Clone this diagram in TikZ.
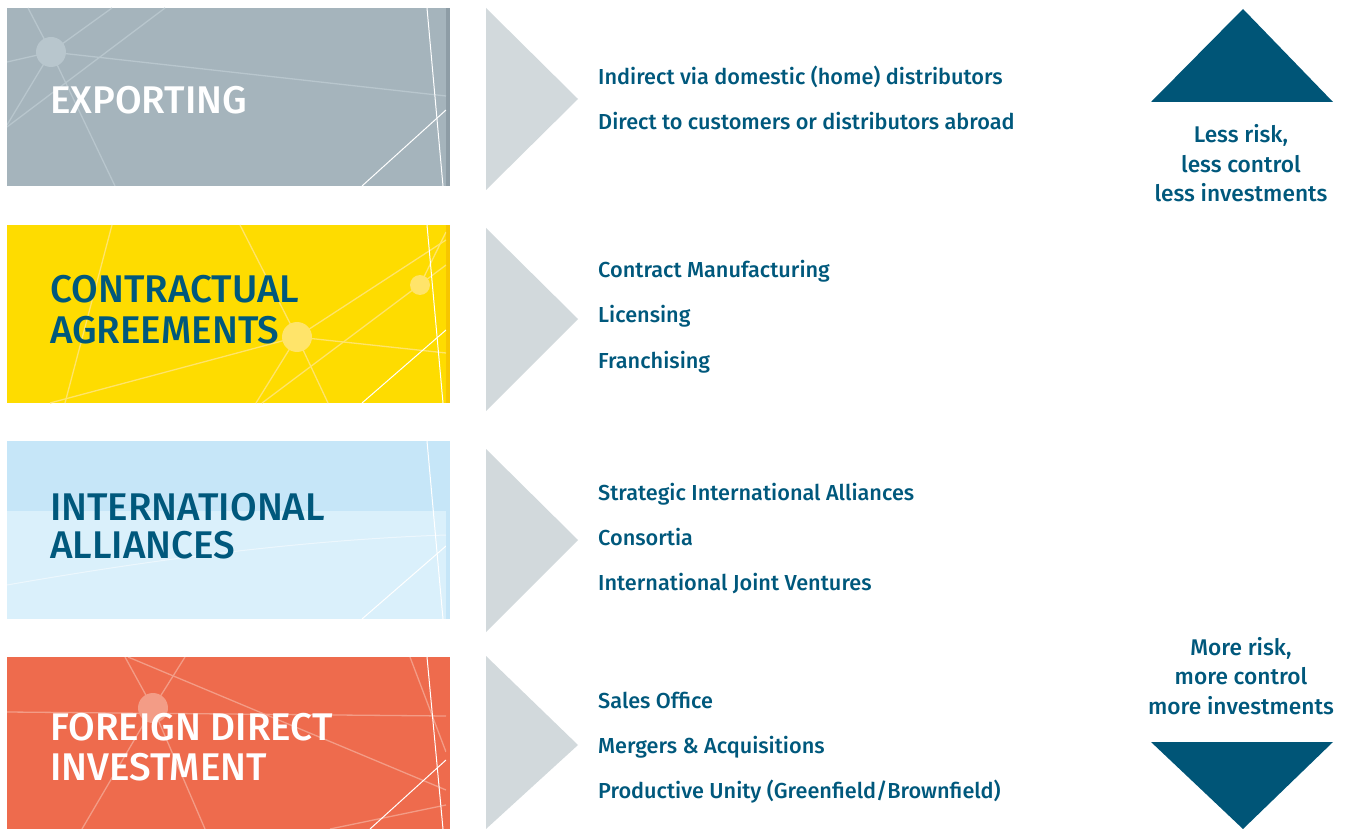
\documentclass[tikz,border=0pt]{standalone}
\usepackage{fontspec}
\setmainfont{Fira Sans Medium}
\definecolor{ecblue}{HTML}{00587C}
\definecolor{tridark}{HTML}{005577}
\definecolor{chev}{HTML}{D2D9DC}
\definecolor{greybox}{HTML}{A5B4BC}
\definecolor{greystrip}{HTML}{8E9DA6}
\definecolor{greyline}{HTML}{B8C6CD}
\definecolor{yelbox}{HTML}{FEDC00}
\definecolor{yelstrip}{HTML}{F7C600}
\definecolor{yelline}{HTML}{FFE46A}
\definecolor{bluetop}{HTML}{C6E6F8}
\definecolor{bluebot}{HTML}{DAF0FB}
\definecolor{orbox}{HTML}{EE6B4D}
\definecolor{orline}{HTML}{F39C86}
\begin{document}
\begin{tikzpicture}[x=1pt,y=-1pt,
  item/.style={anchor=base west, text=ecblue, font=\fontsize{21.7}{21.7}\selectfont, inner sep=0pt},
  titlew/.style={anchor=base west, text=white, font=\fontsize{38.6}{38.6}\selectfont, inner sep=0pt},
  titleb/.style={anchor=base west, text=ecblue, font=\fontsize{38.6}{38.6}\selectfont, inner sep=0pt},
  side/.style={anchor=base, text=ecblue, font=\fontsize{22.7}{22.7}\selectfont, inner sep=0pt},
  chevron/.style={fill=chev},
  wline/.style={draw=white, line width=1pt},
  dline/.style={line width=1.3pt}]
\useasboundingbox (0,0) rectangle (1345,829);

% ---------- box 1: exporting
\fill[greybox] (7,8) rectangle (450,186);
\fill[greystrip] (446,8) rectangle (450,186);
\begin{scope}
  \clip (7,8) rectangle (446,186);
  \draw[dline, greyline] (28,8) -- (51,52) -- (115,186);
  \draw[dline, greyline] (7,62) -- (51,52) -- (446,96);
  \draw[dline, greyline] (51,52) -- (112,8);
  \draw[dline, greyline] (7,127) -- (165,8);
  \draw[dline, greyline] (51,52) -- (7,125);
  \fill[greyline] (51,52) circle (15);
  \draw[wline] (427,8) -- (443,186);
  \draw[wline] (362,186) -- (446,110);
\end{scope}
\node[titlew] (t1) at (50,114) {EXPORTING};

% ---------- box 2: contractual
\fill[yelbox] (7,225) rectangle (450,403);
\fill[yelstrip] (446,225) rectangle (450,403);
\begin{scope}
  \clip (7,225) rectangle (446,403);
  \draw[dline, yelline] (240,225) -- (297,337) -- (328,403);
  \draw[dline, yelline] (297,337) -- (446,240);
  \draw[dline, yelline] (297,337) -- (446,353);
  \draw[dline, yelline] (297,337) -- (256,403);
  \draw[dline, yelline] (420,285) -- (446,232);
  \draw[dline, yelline] (262,403) -- (446,265);
  \draw[dline, yelline] (50,403) -- (297,337);
  \draw[dline, yelline] (112,225) -- (65,403);
  \fill[yelline] (297,337) circle (15);
  \fill[yelline] (420,285) circle (10);
  \draw[wline] (427,225) -- (443,403);
  \draw[wline] (362,403) -- (446,330);
\end{scope}
\node[titleb] (t2a) at (50,303) {CONTRACTUAL};
\node[titleb] (t2b) at (50,343) {AGREEMENTS};

% ---------- box 3: international alliances
\fill[bluebot] (7,441) rectangle (450,619);
\fill[bluetop] (7,441) rectangle (450,511);
\fill[bluebot] (310,511) arc[start angle=180, end angle=0, radius=14];
\begin{scope}
  \clip (7,441) rectangle (446,619);
  \draw[white, opacity=0.5, line width=1pt] (7,585) .. controls (150,560) and (300,540) .. (446,535);
  \draw[wline] (427,441) -- (443,619);
  \draw[wline] (362,619) -- (446,546);
\end{scope}
\fill[bluetop] (446,441) rectangle (450,619);
\node[titleb] (t3a) at (50,520) {INTERNATIONAL};
\node[titleb] (t3b) at (50,558) {ALLIANCES};

% ---------- box 4: FDI
\fill[orbox] (7,657) rectangle (450,829);
\begin{scope}
  \clip (7,657) rectangle (446,829);
  \draw[dline, orline] (7,712) -- (446,716);
  \draw[dline, orline] (125,657) -- (153,708) -- (205,829);
  \draw[dline, orline] (185,657) -- (153,708) -- (82,829);
  \draw[dline, orline] (128,657) -- (446,790);
  \draw[dline, orline] (410,657) -- (446,752);
  \draw[dline, orline] (330,829) -- (446,805);
  \fill[orline] (153,708) circle (15);
  \draw[wline] (427,657) -- (443,829);
  \draw[wline] (370,829) -- (446,760);
\end{scope}
\node[titlew] (t4a) at (50,740) {FOREIGN DIRECT};
\node[titlew] (t4b) at (50,780) {INVESTMENT};

% ---------- chevrons
\fill[chevron] (486,8) -- (578,99) -- (486,190) -- cycle;
\fill[chevron] (486,228) -- (578,319) -- (486,411) -- cycle;
\fill[chevron] (486,449) -- (578,540) -- (486,632) -- cycle;
\fill[chevron] (486,656) -- (578,745) -- (486,829) -- cycle;

% ---------- items
\node[item] (i11) at (598,85) {Indirect via domestic (home) distributors};
\node[item] (i12) at (598,130) {Direct to customers or distributors abroad};
\node[item] (i21) at (598,278) {Contract Manufacturing};
\node[item] (i22) at (598,323) {Licensing};
\node[item] (i23) at (598,368) {Franchising};
\node[item] (i31) at (598,500) {Strategic International Alliances};
\node[item] (i32) at (598,545) {Consortia};
\node[item] (i33) at (598,590) {International Joint Ventures};
\node[item] (i41) at (598,708) {Sales Office};
\node[item] (i42) at (598,753) {Mergers \& Acquisitions};
\node[item] (i43) at (598,798) {Productive Unity (Greenfield/Brownfield)};

% ---------- risk triangles
\fill[tridark] (1151,102) -- (1243,9) -- (1333,102) -- cycle;
\fill[tridark] (1151,742) -- (1333,742) -- (1243,829) -- cycle;
\node[side] (s1) at (1241,143) {Less risk,};
\node[side] (s2) at (1241,173) {less control};
\node[side] (s3) at (1241,202) {less investments};
\node[side] (s4) at (1241,655) {More risk,};
\node[side] (s5) at (1241,684) {more control};
\node[side] (s6) at (1241,714) {more investments};
\end{tikzpicture}
\end{document}
